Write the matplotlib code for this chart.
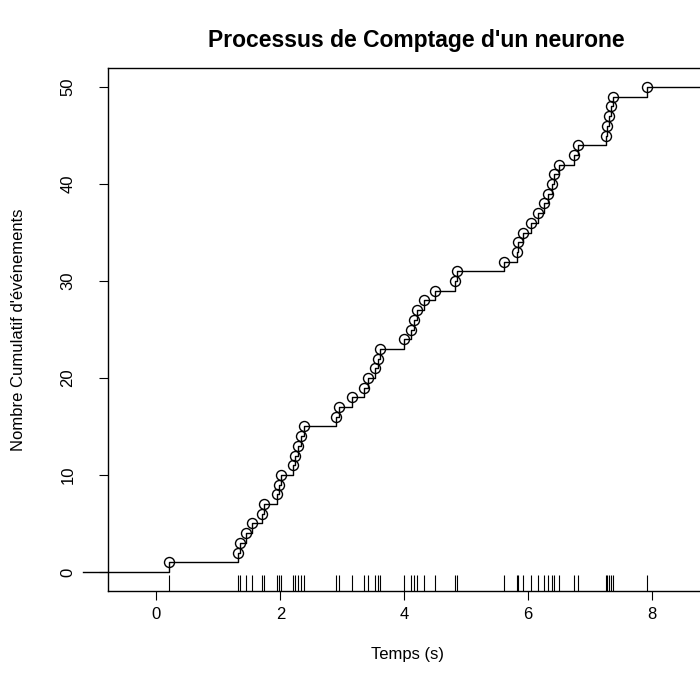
import matplotlib
matplotlib.use("Agg")
import matplotlib.pyplot as plt
import numpy as np

plt.rcParams['font.family'] = ['Liberation Sans', 'DejaVu Sans']

spikes = [0.20, 1.32, 1.355, 1.45, 1.54, 1.70, 1.74, 1.95, 1.98, 2.01,
          2.20, 2.24, 2.28, 2.33, 2.39, 2.90, 2.95, 3.15, 3.35, 3.41,
          3.53, 3.57, 3.61, 4.00, 4.11, 4.16, 4.21, 4.32, 4.50, 4.82,
          4.85, 5.61, 5.82, 5.84, 5.91, 6.05, 6.15, 6.26, 6.32, 6.39,
          6.42, 6.50, 6.74, 6.80, 7.26, 7.27, 7.31, 7.33, 7.37, 7.92]
counts = list(range(1, len(spikes) + 1))
t_start, t_end = -1.19, 9.6

xticks = [0, 2, 4, 6, 8]
yticks = [0, 10, 20, 30, 40, 50]

fig = plt.figure(figsize=(7, 6.95), dpi=100)
ax = fig.add_axes([108 / 700, 104 / 695, 600 / 700, 523 / 695])

# counting process as a step function
xs = [t_start] + spikes + [t_end]
ys = [0] + counts + [counts[-1]]
ax.step(xs, ys, where='post', color='black', lw=1, clip_on=False)
ax.plot(spikes, counts, 'o', mfc='none', mec='black', ms=7.2, mew=1)

# rug
ax.vlines(spikes, 0, 0.03, transform=ax.get_xaxis_transform(),
          color='black', lw=0.8)

ax.set_xlim(-0.78, 8.90)
ax.set_ylim(-1.96, 51.96)
ax.set_xticks(xticks)
ax.set_yticks(yticks)
ax.tick_params(direction='out', length=6.5, width=0.8, labelsize=12)
ax.tick_params(axis='x', pad=5)
ax.tick_params(axis='y', pad=17)
for lbl in ax.get_yticklabels():
    lbl.set_rotation(90)
    lbl.set_va('center')
for s in ax.spines.values():
    s.set_linewidth(1)

ax.set_xlabel('Temps (s)', fontsize=12, labelpad=18)
ax.set_ylabel("Nombre Cumulatif d'événements", fontsize=12, labelpad=25)
fig.text(416 / 700, 1 - 40 / 695, "Processus de Comptage d'un neurone",
         ha='center', va='center', fontsize=16.5, fontweight='bold')

fig.savefig('out.png', dpi=100)
